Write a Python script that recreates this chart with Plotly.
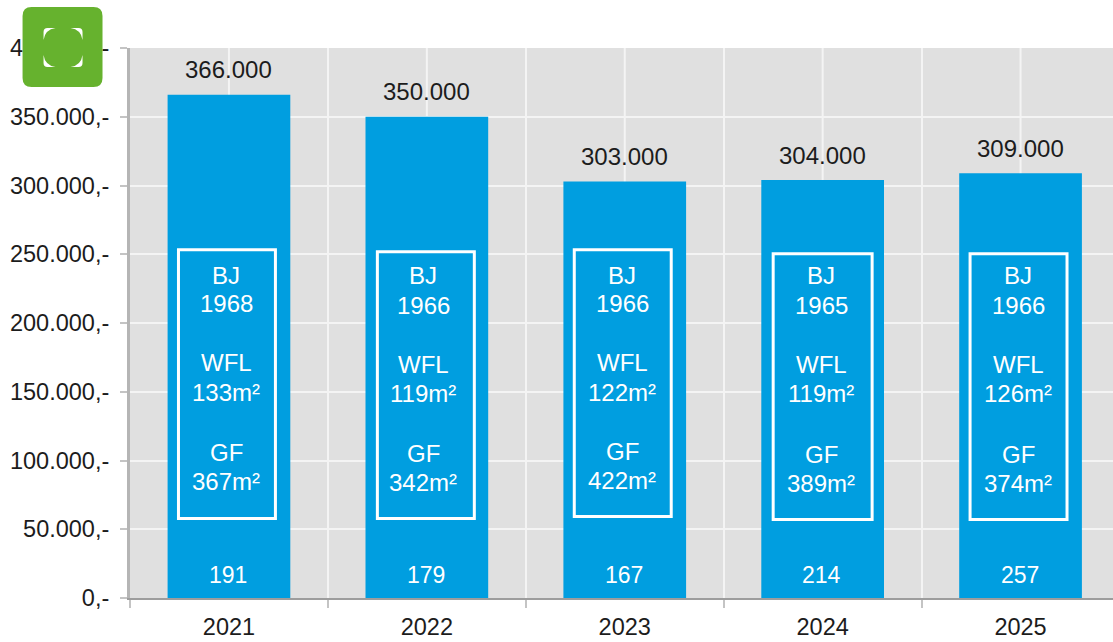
import plotly.graph_objects as go

# Chart data
years = ["2021", "2022", "2023", "2024", "2025"]
prices = [366000, 350000, 303000, 304000, 309000]
build_years = ["1968", "1966", "1966", "1965", "1966"]
living_areas = ["133m²", "119m²", "122m²", "119m²", "126m²"]
plot_areas = ["367m²", "342m²", "422m²", "389m²", "374m²"]
sales_counts = ["191", "179", "167", "214", "257"]

# Page geometry in pixels
W, H = 1113, 642
PLOT_L, PLOT_R, PLOT_T, PLOT_B = 129.5, 1113, 48, 598.5
SLOT = 198.0

BAR_BLUE = "#009EE0"
PANEL = "#E0E0E0"
GREEN = "#66B22E"
INK = "#1c1c1c"
FONT = "Liberation Sans"
SIZE = 24
TICK_SIZE = 23.5
COUNT_SIZE = 23

# Pixel layout of the framed info block of each column
frame_x = [(178, 275), (377, 474), (574, 671), (773, 872), (970, 1067)]
frame_y = [(250, 519), (252, 519), (250, 517), (254, 520), (254, 520)]
text_x = [226, 423, 622, 821, 1018]
row_y = [
    (276, 304, 363, 393, 453, 482),
    (276, 306, 365, 394, 454, 483),
    (276, 304, 363, 393, 452, 481),
    (276, 306, 365, 394, 455, 484),
    (276, 306, 365, 394, 455, 484),
]
COUNT_Y = 575


def px(x):
    return (x - PLOT_L) / (PLOT_R - PLOT_L)


def py(y):
    return (PLOT_B - y) / (PLOT_B - PLOT_T)


def path(cmds):
    out = []
    for c, *pts in cmds:
        out.append(c + " ".join(f"{px(pts[i]):.5f},{py(pts[i + 1]):.5f}" for i in range(0, len(pts), 2)))
    return " ".join(out) + " Z"


fig = go.Figure(
    go.Bar(
        x=years,
        y=prices,
        width=0.62,
        marker=dict(color=BAR_BLUE, line=dict(width=0)),
        hoverinfo="x+y",
    )
)

shapes = []
annotations = []

for i, year in enumerate(years):
    # White guide through the middle of the category (numeric position on the category axis)
    shapes.append(dict(type="line", layer="below", xref="x", yref="paper", x0=i, x1=i, y0=0, y1=1,
                       line=dict(color="#f4f4f4", width=2)))
    # Price above the column
    annotations.append(dict(x=i, y=prices[i], xref="x", yref="y", yshift=25, yanchor="middle", xanchor="center",
                            text=f"{prices[i]:,}".replace(",", "."), showarrow=False,
                            font=dict(family=FONT, size=SIZE, color=INK)))
    # Frame around the property details
    x0, x1 = frame_x[i]
    y0, y1 = frame_y[i]
    shapes.append(dict(type="rect", layer="above", xref="paper", yref="paper", x0=px(x0), x1=px(x1), y0=py(y1), y1=py(y0),
                       line=dict(color="white", width=3)))
    # Property detail rows and the sales count
    texts = ["BJ", build_years[i], "WFL", living_areas[i], "GF", plot_areas[i]]
    for text, y in zip(texts, row_y[i]):
        annotations.append(dict(x=px(text_x[i]), y=py(y), xref="paper", yref="paper", text=text, showarrow=False,
                                xanchor="center", yanchor="middle", font=dict(family=FONT, size=SIZE, color="white")))
    annotations.append(dict(x=i, y=py(COUNT_Y), xref="x", yref="paper", xshift=-1, text=sales_counts[i], showarrow=False,
                            xanchor="center", yanchor="middle", font=dict(family=FONT, size=COUNT_SIZE, color="white")))

# Green fullscreen button in the top left corner
L, R, T, B, r = 22, 102, 7, 87, 9
shapes.append(dict(
    type="path", layer="above", xref="paper", yref="paper", fillcolor=GREEN, line=dict(width=0),
    path=path([("M", L + r, T), ("L", R - r, T), ("Q", R, T, R, T + r), ("L", R, B - r), ("Q", R, B, R - r, B),
               ("L", L + r, B), ("Q", L, B, L, B - r), ("L", L, T + r), ("Q", L, T, L + r, T)]),
))
ix0, ix1, iy0, iy1 = 43, 82, 28, 67
for sx, sy, cx, cy in [(1, 1, ix0, iy0), (-1, 1, ix1, iy0), (1, -1, ix0, iy1), (-1, -1, ix1, iy1)]:
    shapes.append(dict(
        type="path", layer="above", xref="paper", yref="paper", fillcolor="white", line=dict(width=0),
        path=path([("M", cx, cy + sy * 12), ("L", cx, cy + sy * 4), ("Q", cx, cy, cx + sx * 4, cy),
                   ("L", cx + sx * 12, cy), ("Q", cx + sx * 1.5, cy + sy * 1.5, cx, cy + sy * 12)]),
    ))

fig.update_layout(
    width=W,
    height=H,
    margin=dict(l=PLOT_L, r=W - PLOT_R, t=PLOT_T, b=H - PLOT_B, autoexpand=False),
    paper_bgcolor="white",
    plot_bgcolor=PANEL,
    showlegend=False,
    separators=",.",
    shapes=shapes,
    annotations=annotations,
    font=dict(family=FONT, size=SIZE, color=INK),
    xaxis=dict(
        type="category",
        categoryorder="array",
        categoryarray=years,
        range=[-0.5, (PLOT_R - PLOT_L) / SLOT - 0.5],
        tickson="boundaries",
        ticks="outside",
        ticklen=8,
        tickwidth=2,
        tickcolor="#c4c4c4",
        ticklabelstandoff=7,
        showgrid=True,
        gridcolor="#f4f4f4",
        gridwidth=2,
        showline=True,
        linecolor="rgba(60,60,60,0.5)",
        linewidth=2,
        tickfont=dict(family=FONT, size=TICK_SIZE, color=INK),
        fixedrange=True,
    ),
    yaxis=dict(
        range=[0, 400000],
        dtick=50000,
        tickformat=",d",
        ticksuffix=",-",
        ticks="outside",
        ticklen=7,
        tickwidth=2,
        tickcolor="#c4c4c4",
        ticklabelstandoff=6,
        showgrid=True,
        gridcolor="#f4f4f4",
        gridwidth=2,
        zeroline=False,
        showline=True,
        linecolor="#b5b5b5",
        linewidth=3,
        tickfont=dict(family=FONT, size=TICK_SIZE, color=INK),
        fixedrange=True,
    ),
)

fig.write_html("out.html", config=dict(displayModeBar=False))
